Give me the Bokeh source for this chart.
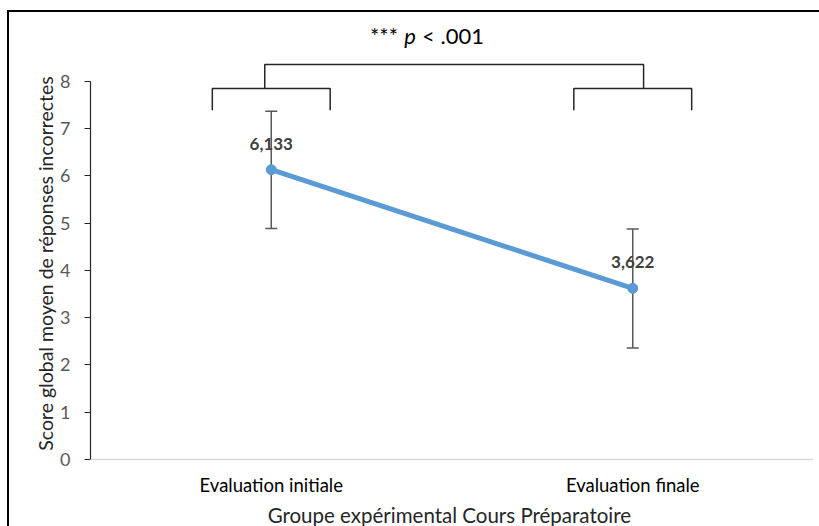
from bokeh.plotting import figure
from bokeh.models import Range1d, FactorRange, Whisker, TeeHead, ColumnDataSource, Label, Span, Title
from bokeh.core.properties import value
from bokeh.embed import file_html
from bokeh.resources import INLINE

# ---- data ----
categories = ["Evaluation initiale", "Evaluation finale"]
means = [6.133, 3.622]
lower = [4.89, 2.36]
upper = [7.37, 4.88]
value_labels = ["6,133", "3,622"]
y_ticks = [0, 1, 2, 3, 4, 5, 6, 7, 8]
title_parts = ["***", "p", "< .001"]
x_title = "Groupe  expérimental Cours Préparatoire"
y_title = "Score global moyen de réponses incorrectes"

FONT = "Lato"

p = figure(width=819, height=526, x_range=FactorRange(*categories, range_padding=0),
           y_range=Range1d(-1.418, 9.714), output_backend="svg", toolbar_location=None,
           min_border_left=90, min_border_right=6, min_border_bottom=0, min_border_top=0)
p.outline_line_color = None
p.grid.visible = False
p.background_fill_color = None
p.border_fill_color = None
# outer frame of the chart (top and left edges visible, as in the original picture)
p.styles = {
    "background": ("linear-gradient(#000, #000) 7px 10px / 2px 100% no-repeat, "
                   "linear-gradient(#000, #000) 7px 10px / 100% 2px no-repeat, #fff"),
}

# y axis (value axis drawn from 0 to 8 only)
p.yaxis.bounds = (0, 8)
p.yaxis.ticker = y_ticks
p.yaxis.axis_line_color = "#262626"
p.yaxis.axis_line_width = 1.2
p.yaxis.major_tick_line_color = "#262626"
p.yaxis.major_tick_in = 0
p.yaxis.major_tick_out = 6
p.yaxis.minor_tick_line_color = None
p.yaxis.major_label_text_font = FONT
p.yaxis.major_label_text_font_size = "18px"
p.yaxis.major_label_text_color = "#595959"
p.yaxis.major_label_standoff = 14
p.add_layout(Title(text=y_title, align="center", offset=16, standoff=2,
                   text_font=FONT, text_font_size="19.5px", text_font_style="normal",
                   text_color="#262626"), "left")

# category axis: baseline at 0 with labels under it
p.xaxis.visible = False
p.add_layout(Span(location=0, dimension="width", line_color="#D9D9D9", line_width=1.5))
p.text(x=categories, y=[0] * len(categories), text=categories, y_offset=26,
       text_font=value(FONT), text_font_size="18.5px", text_color="#000000",
       text_align="center", text_baseline="middle")
p.text(x=[len(categories) / 2], y=[0], text=[x_title], y_offset=56,
       text_font=value(FONT), text_font_size="20.5px", text_color="#262626",
       text_align="center", text_baseline="middle")

src = ColumnDataSource(dict(cat=categories, mean=means, lower=lower, upper=upper, lab=value_labels))

w = Whisker(source=src, base="cat", upper="upper", lower="lower",
            line_color="#595959", line_width=1.5,
            upper_head=TeeHead(size=12, line_color="#595959", line_width=1.5),
            lower_head=TeeHead(size=12, line_color="#595959", line_width=1.5))
p.add_layout(w)

p.line("cat", "mean", source=src, line_color="#5B9BD5", line_width=5)
p.scatter("cat", "mean", source=src, size=10, fill_color="#5B9BD5", line_color="#5B9BD5")

p.text("cat", "mean", text="lab", source=src, text_font=value(FONT), text_font_style="bold",
       text_font_size="17px", text_color="#404040", text_align="center",
       text_baseline="middle", y_offset=-26)

# comparison brackets
cpos = [i + 0.5 for i in range(len(categories))]
hw = 0.163
big_shift = [-0.018, 0.03]
y_leg, y_small, y_big = 7.39, 7.85, 8.36
xs, ys = [], []
for c in cpos:
    xs.append([c - hw, c - hw, c + hw, c + hw])
    ys.append([y_leg, y_small, y_small, y_leg])
bl, br = cpos[0] + big_shift[0], cpos[1] + big_shift[1]
xs.append([bl, bl, br, br])
ys.append([y_small, y_big, y_big, y_small])
p.multi_line(xs, ys, line_color="#262626", line_width=1.5)

# significance text
tx, ty = 0.884, 8.97
p.add_layout(Label(x=tx, y=ty, x_offset=-12, text=title_parts[0], text_align="right",
                   text_baseline="middle", text_font=FONT, text_font_size="22px", text_color="#000"))
p.add_layout(Label(x=tx, y=ty, text=title_parts[1], text_align="center", text_font_style="italic",
                   text_baseline="middle", text_font=FONT, text_font_size="22px", text_color="#000"))
p.add_layout(Label(x=tx, y=ty, x_offset=12, text=title_parts[2], text_align="left",
                   text_baseline="middle", text_font=FONT, text_font_size="22px", text_color="#000"))

open("out.html", "w").write(file_html(p, INLINE))
